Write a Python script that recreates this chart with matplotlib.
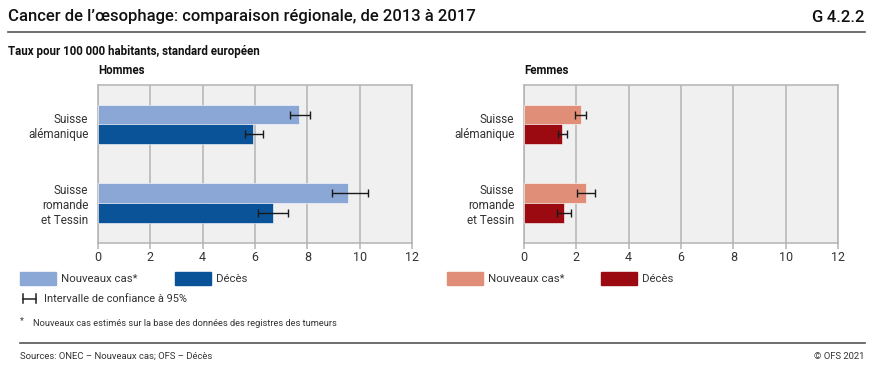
import numpy as np
import matplotlib
matplotlib.use("Agg")
import matplotlib.pyplot as plt
from matplotlib.patches import Rectangle
from matplotlib.lines import Line2D

plt.rcParams['font.family'] = ['Roboto', 'DejaVu Sans']

# Data
regions = ['Suisse\nalémanique', 'Suisse\nromande\net Tessin']
xticks = [0, 2, 4, 6, 8, 10, 12]

hommes_cas = [7.7, 9.55]
hommes_cas_lo = [7.33, 8.93]
hommes_cas_hi = [8.1, 10.3]
hommes_deces = [5.92, 6.68]
hommes_deces_lo = [5.6, 6.1]
hommes_deces_hi = [6.3, 7.28]

femmes_cas = [2.17, 2.36]
femmes_cas_lo = [1.95, 2.04]
femmes_cas_hi = [2.37, 2.7]
femmes_deces = [1.45, 1.52]
femmes_deces_lo = [1.3, 1.27]
femmes_deces_hi = [1.63, 1.8]

c_blue_light = '#8ba7d5'
c_blue_dark = '#0b5399'
c_red_light = '#e08e77'
c_red_dark = '#9b0a10'
grid_c = '#b3b3b3'
bg_c = '#f0f0f0'

W, H = 873, 368
fig = plt.figure(figsize=(W / 100, H / 100), dpi=100)


def fx(px):
    return px / W


def fy(py):
    return 1 - py / H


def panel(left_px, cas, cas_lo, cas_hi, dec, dec_lo, dec_hi, c1, c2):
    ax = fig.add_axes([fx(left_px), fy(242.5), fx(314), (242.5 - 85) / H])
    ax.set_facecolor(bg_c)
    y = np.arange(len(regions))
    h = 0.25
    ax.barh(y - h / 2, cas, height=h, color=c1, edgecolor='white', linewidth=0.4, zorder=3)
    ax.barh(y + h / 2, dec, height=h, color=c2, edgecolor='white', linewidth=0.4, zorder=3)
    cas = np.array(cas)
    dec = np.array(dec)
    ax.errorbar(cas, y - h / 2,
                xerr=[cas - np.array(cas_lo), np.array(cas_hi) - cas],
                fmt='none', ecolor='#1a1a1a', elinewidth=1.0, capsize=3.2, capthick=1.0, zorder=4)
    ax.errorbar(dec, y + h / 2,
                xerr=[dec - np.array(dec_lo), np.array(dec_hi) - dec],
                fmt='none', ecolor='#1a1a1a', elinewidth=1.0, capsize=3.2, capthick=1.0, zorder=4)
    ax.set_xlim(0, 12)
    ax.set_ylim(1.5, -0.5)
    ax.set_xticks(xticks)
    ax.set_xticklabels([str(t) for t in xticks], fontsize=9, color='#333333')
    ax.xaxis.grid(True, color=grid_c, linewidth=1.1, zorder=0)
    ax.set_axisbelow(True)
    for s in ax.spines.values():
        s.set_color(grid_c)
        s.set_linewidth(1.1)
    ax.tick_params(axis='x', length=4, color=grid_c, width=1.1, pad=2)
    ax.tick_params(axis='y', length=0, pad=7)
    ax.set_yticks(y)
    ax.set_yticklabels(regions, fontsize=8.5, color='#333333', ha='right', multialignment='right')
    return ax


panel(98, hommes_cas, hommes_cas_lo, hommes_cas_hi,
      hommes_deces, hommes_deces_lo, hommes_deces_hi, c_blue_light, c_blue_dark)
panel(524, femmes_cas, femmes_cas_lo, femmes_cas_hi,
      femmes_deces, femmes_deces_lo, femmes_deces_hi, c_red_light, c_red_dark)

# Header
fig.text(fx(8), fy(17), "Cancer de l’œsophage: comparaison régionale, de 2013 à 2017",
         fontsize=12, fontweight='medium', va='center', ha='left', color='#111111')
fig.text(fx(865), fy(17), "G\u20094.2.2", fontsize=12, fontweight='medium', va='center',
         ha='right', color='#111111')
fig.add_artist(Line2D([fx(8), fx(865)], [fy(31.5), fy(31.5)], color='#555555', lw=1.2))
fig.text(fx(8), fy(51), "Taux pour 100 000 habitants, standard européen",
         fontsize=8.3, fontweight='bold', va='center', ha='left', color='#111111')
fig.text(fx(98), fy(70), "Hommes", fontsize=8.3, fontweight='bold', va='center', color='#111111')
fig.text(fx(524), fy(70), "Femmes", fontsize=8.3, fontweight='bold', va='center', color='#111111')


# Legend
def leg_patch(x, color, label):
    fig.add_artist(Rectangle((fx(x), fy(285)), fx(36), 13 / H, color=color,
                             transform=fig.transFigure))
    fig.text(fx(x + 41), fy(278.5), label, fontsize=8.2, va='center', color='#333333')


leg_patch(20, c_blue_light, "Nouveaux cas*")
leg_patch(175, c_blue_dark, "Décès")
leg_patch(447, c_red_light, "Nouveaux cas*")
leg_patch(601, c_red_dark, "Décès")

# CI legend marker
fig.add_artist(Line2D([fx(23), fx(36)], [fy(298.5), fy(298.5)], color='#222222', lw=1.1))
fig.add_artist(Line2D([fx(23), fx(23)], [fy(294), fy(303)], color='#222222', lw=1.1))
fig.add_artist(Line2D([fx(36), fx(36)], [fy(294), fy(303)], color='#222222', lw=1.1))
fig.text(fx(44), fy(298.5), "Intervalle de confiance à 95%", fontsize=7.9, va='center',
         color='#333333')

# Footnote
fig.text(fx(20), fy(321), "*", fontsize=6.5, va='center', color='#333333')
fig.text(fx(33), fy(323), "Nouveaux cas estimés sur la base des données des registres des tumeurs",
         fontsize=6.7, va='center', color='#333333')

fig.add_artist(Line2D([fx(20), fx(865)], [fy(343), fy(343)], color='#555555', lw=1.2))
fig.text(fx(20), fy(356.5), "Sources: ONEC – Nouveaux cas; OFS – Décès", fontsize=6.8,
         va='center', color='#333333')
fig.text(fx(865), fy(356.5), "© OFS 2021", fontsize=6.8, va='center', ha='right',
         color='#333333')

fig.savefig('out.png', dpi=100, facecolor='white')
